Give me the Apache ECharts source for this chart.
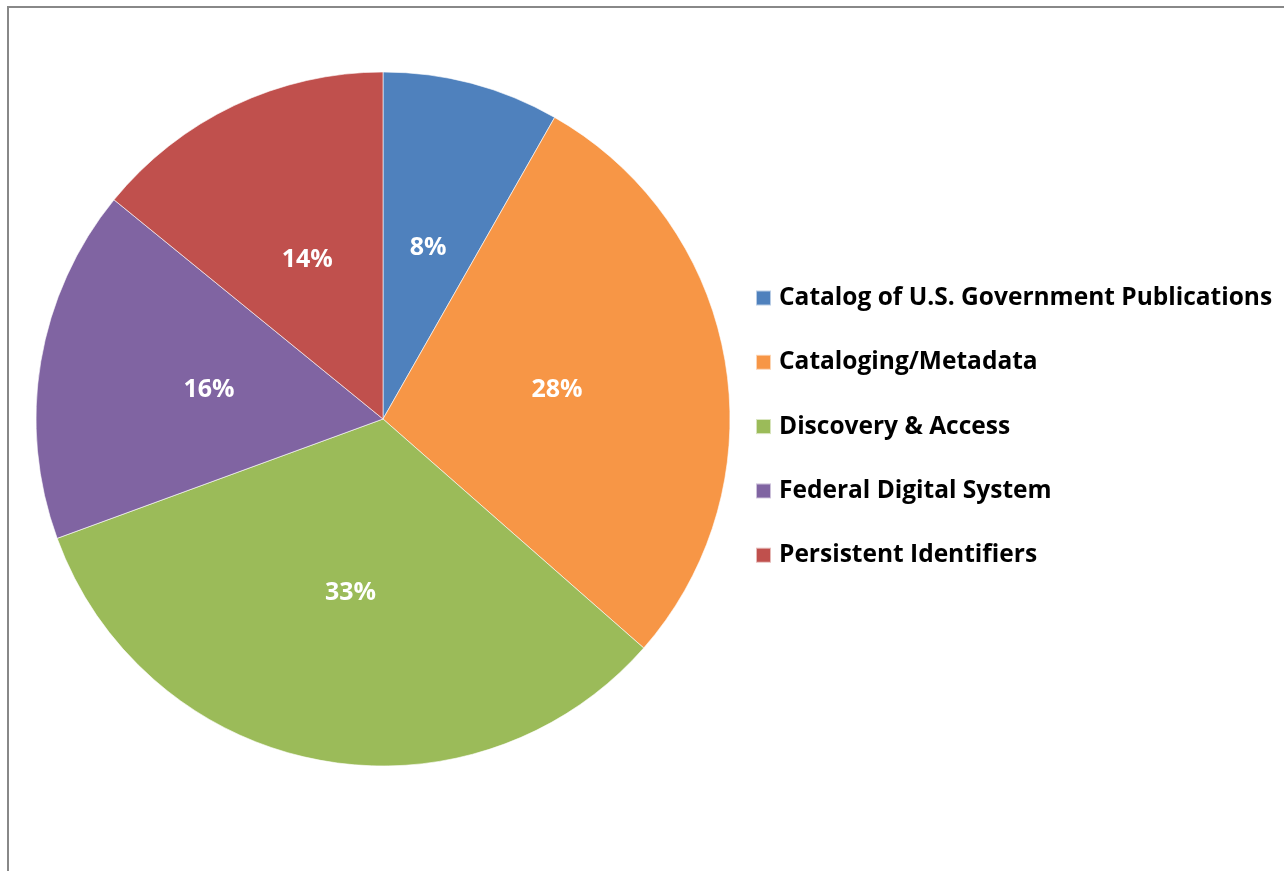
<!DOCTYPE html>
<html>
<head>
<meta charset="utf-8">
<script src="https://cdn.jsdelivr.net/npm/echarts@6/dist/echarts.min.js"></script>
<style>
html,body{margin:0;padding:0;background:#fff;}
#main{width:1284px;height:871px;}
</style>
</head>
<body>
<div id="main"></div>
<script>
const categories = ["Catalog of U.S. Government Publications","Cataloging/Metadata","Discovery & Access","Federal Digital System","Persistent Identifiers"];
const values = [7, 24, 28, 14, 12];
const colors = ["#4F81BD","#F79646","#9BBB59","#8064A2","#C0504D"];

const chart = echarts.init(document.getElementById('main'));
const total = values.reduce((a,b)=>a+b,0);
chart.setOption({
  animation: false,
  backgroundColor: '#fff',
  color: colors,
  graphic: [{
    type: 'rect',
    shape: {x: 8, y: 7, width: 1400, height: 1000},
    style: {fill: 'none', stroke: '#888', lineWidth: 2},
    silent: true
  }],
  legend: {
    orient: 'vertical',
    left: 750,
    top: 280,
    itemWidth: 15,
    itemHeight: 15,
    itemGap: 38.3,
    icon: 'rect',
    data: categories,
    textStyle: {fontFamily: 'Open Sans', fontWeight: 'bold', fontSize: 24.5, color: '#000', lineHeight: 26, padding: [0,0,0,3]}
  },
  series: [{
    type: 'pie',
    center: [383, 419],
    radius: 347,
    startAngle: 90,
    clockwise: true,
    itemStyle: {borderColor: 'rgba(255,255,255,0.6)', borderWidth: 1},
    label: {
      position: 'inside',
      color: '#fff',
      fontFamily: 'Open Sans',
      fontWeight: 'bold',
      fontSize: 25,
      formatter: p => Math.round(p.value / total * 100) + '%'
    },
    labelLine: {show: false},
    data: categories.map((c,i)=>({name: c, value: values[i]}))
  }]
});
</script>
</body>
</html>
